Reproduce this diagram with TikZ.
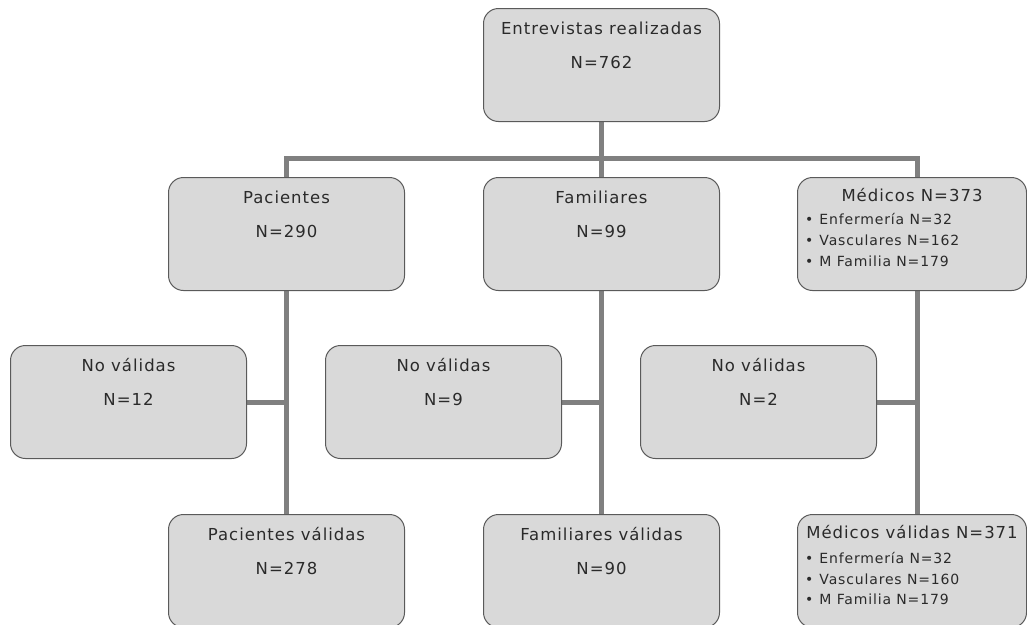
\documentclass[tikz,border=0pt]{standalone}
\usepackage{fontspec}
\setmainfont{DejaVu Sans}[LetterSpace=6]
\usetikzlibrary{backgrounds}
\definecolor{boxfill}{HTML}{D9D9D9}
\definecolor{boxdraw}{HTML}{5A5A5A}
\definecolor{linec}{HTML}{808080}
\definecolor{txt}{HTML}{2A2A2A}
\tikzset{
 box/.style={draw=boxdraw, fill=boxfill, rounded corners=15pt, line width=1pt, minimum width=236pt, minimum height=113pt, inner sep=0pt, anchor=north west},
 narrowbox/.style={box, minimum width=229pt},
 conn/.style={draw=linec, line width=5pt, line join=miter},
 ttl/.style={font=\fontsize{16.5}{19}\selectfont, text=txt, anchor=base, inner sep=0pt},
 item/.style={font=\fontsize{14}{16}\selectfont, text=txt, anchor=base west, inner sep=0pt},
}
\begin{document}
\begin{tikzpicture}[x=1pt,y=-1pt]
\useasboundingbox (0,0) rectangle (1027,624);
\clip (0,0) rectangle (1027,624);
% boxes
\node[box] (top) at (483,8) {};
\node[box] (pac) at (168,177) {};
\node[box] (fam) at (483,177) {};
\node[narrowbox] (med) at (797,177) {};
\node[box] (nv1) at (10,345) {};
\node[box] (nv2) at (325,345) {};
\node[box] (nv3) at (640,345) {};
\node[box] (pacv) at (168,514) {};
\node[box] (famv) at (483,514) {};
\node[narrowbox] (medv) at (797,514) {};
% connectors
\begin{scope}[on background layer]
\draw[conn] (top.south) -- (fam.north);
\draw[conn] (pac.north) -- (pac.north |- 0,158) -- ([xshift=5pt]med.north |- 0,158) -- ([xshift=5pt]med.north);
\draw[conn] (pac.south) -- (pacv.north);
\draw[conn] (fam.south) -- (famv.north);
\draw[conn] ([xshift=5pt]med.south) -- ([xshift=5pt]medv.north);
\draw[conn] (nv1.east) -- (nv1.east -| pac.south);
\draw[conn] (nv2.east) -- (nv2.east -| fam.south);
\draw[conn] (nv3.east) -- ([xshift=5pt]nv3.east -| med.south);
\end{scope}
% texts
\node[ttl] (t1) at ([yshift=-26pt]top.north) {Entrevistas realizadas};
\node[ttl] (t2) at ([yshift=-60pt]top.north) {N=762};
\node[ttl] (p1) at ([yshift=-26pt]pac.north) {Pacientes};
\node[ttl] (p2) at ([yshift=-60pt]pac.north) {N=290};
\node[ttl] (f1) at ([yshift=-26pt]fam.north) {Familiares};
\node[ttl] (f2) at ([yshift=-60pt]fam.north) {N=99};
\node[ttl] (m1) at ([yshift=-24pt]med.north) {Médicos N=373};
\node[item] (m2) at (805,224) {•\hspace{6pt}Enfermería N=32};
\node[item] (m3) at (805,245) {•\hspace{6pt}Vasculares N=162};
\node[item] (m4) at (805,266) {•\hspace{6pt}M Familia N=179};
\node[ttl] (a1) at ([yshift=-26pt]nv1.north) {No válidas};
\node[ttl] (a2) at ([yshift=-60pt]nv1.north) {N=12};
\node[ttl] (b1) at ([yshift=-26pt]nv2.north) {No válidas};
\node[ttl] (b2) at ([yshift=-60pt]nv2.north) {N=9};
\node[ttl] (c1) at ([yshift=-26pt]nv3.north) {No válidas};
\node[ttl] (c2) at ([yshift=-60pt]nv3.north) {N=2};
\node[ttl] (pv1) at ([yshift=-26pt]pacv.north) {Pacientes válidas};
\node[ttl] (pv2) at ([yshift=-60pt]pacv.north) {N=278};
\node[ttl] (fv1) at ([yshift=-26pt]famv.north) {Familiares válidas};
\node[ttl] (fv2) at ([yshift=-60pt]famv.north) {N=90};
\node[ttl] (mv1) at ([yshift=-24pt]medv.north) {Médicos válidas N=371};
\node[item] (mv2) at (805,563) {•\hspace{6pt}Enfermería N=32};
\node[item] (mv3) at (805,584) {•\hspace{6pt}Vasculares N=160};
\node[item] (mv4) at (805,604) {•\hspace{6pt}M Familia N=179};
\end{tikzpicture}
\end{document}
